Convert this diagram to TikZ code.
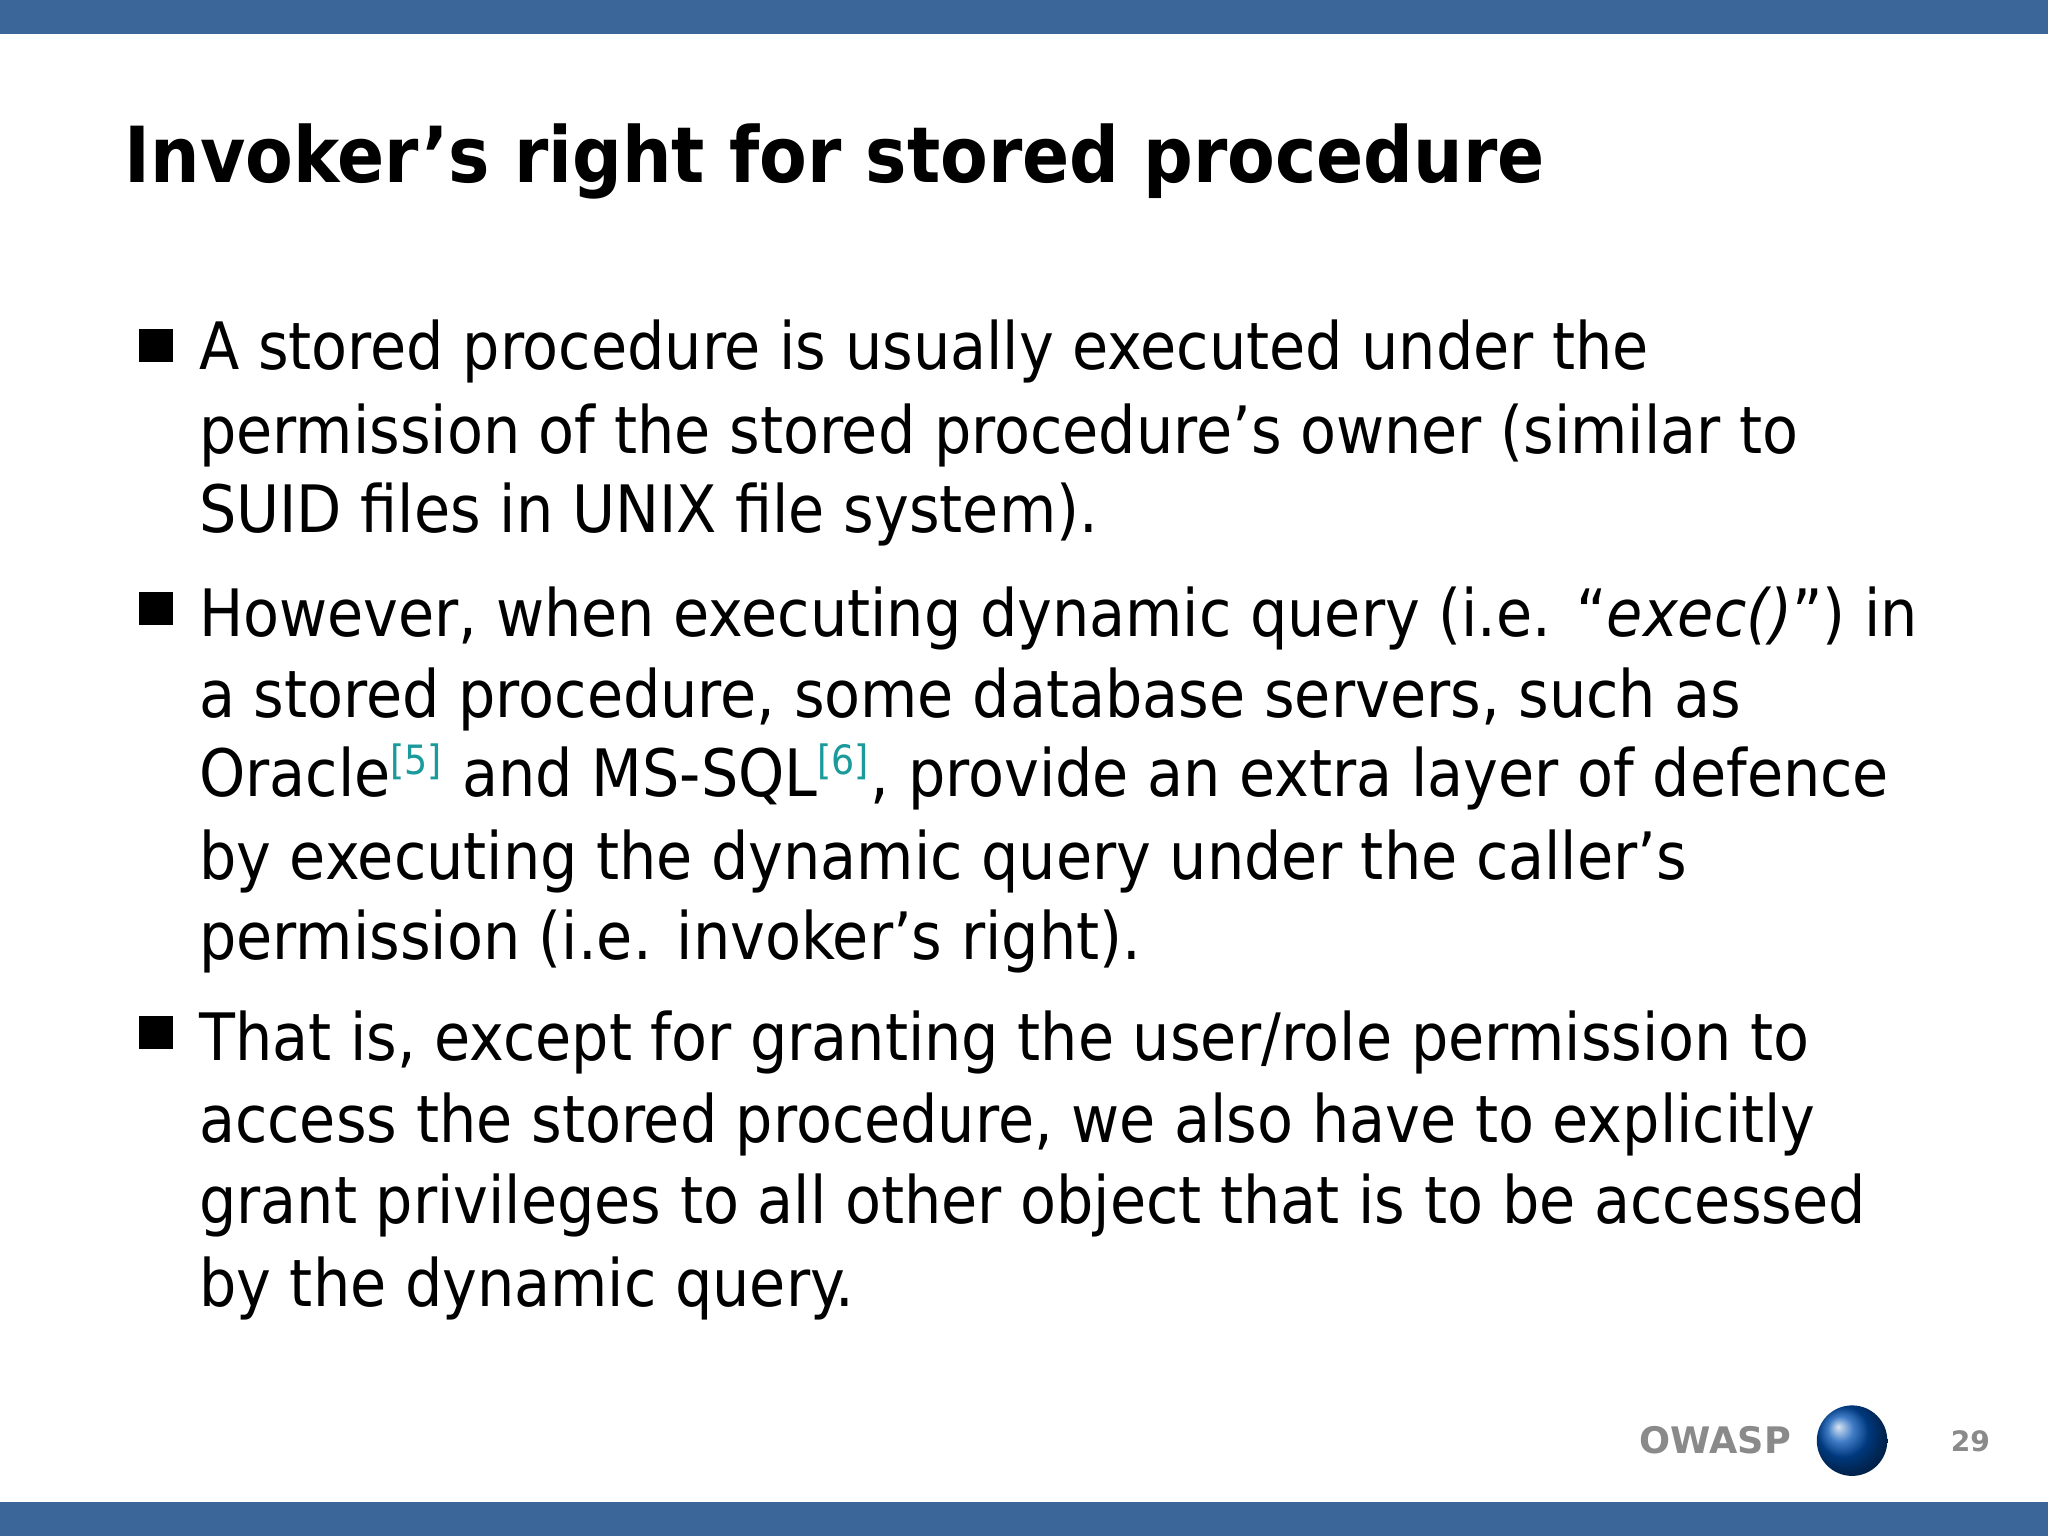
\documentclass[tikz,border=0pt]{standalone}
\usepackage{fontspec}
\setmainfont{DejaVu Sans Condensed}
\newfontfamily\titlefont{DejaVu Sans Condensed}
\newfontfamily\footfont{DejaVu Sans}
\definecolor{barblue}{HTML}{3A6699}
\definecolor{refteal}{HTML}{1A9A9A}
\definecolor{owgray}{HTML}{8A8A8A}
\tikzset{line/.style={anchor=base west,inner sep=0pt,font=\fontsize{18.6pt}{22pt}\selectfont},
 bul/.style={anchor=south west,inner sep=0pt,fill=black,minimum width=9.5pt,minimum height=9.5pt}}
\newcommand{\refm}[1]{\textsuperscript{\color{refteal}\fontsize{11.5pt}{12pt}\selectfont[#1]}}
\begin{document}
\begin{tikzpicture}[x=0.013061cm,y=-0.013061cm]
\useasboundingbox (0,0) rectangle (1568,1176);
\fill[white] (0,0) rectangle (1568,1176);
\fill[barblue] (0,0) rectangle (1568,26);
\fill[barblue] (0,1150) rectangle (1568,1176);
\node[anchor=base west,inner sep=0pt,font=\titlefont\bfseries\fontsize{22pt}{26pt}\selectfont] (title) at (95,140) {Invoker’s right for stored procedure};
\node[bul] (b1) at (106,278) {};
\node[bul] (b2) at (106,479) {};
\node[bul] (b3) at (106,804) {};
\node[line] (l1) at (152,283) {A stored procedure is usually executed under the};
\node[line] (l2) at (152,347) {permission of the stored procedure’s owner (similar to};
\node[line] (l3) at (152,408) {SUID files in UNIX file system).};
\node[line] (l4) at (152,487) {However, when executing dynamic query (i.e. “\textit{exec()}”) in};
\node[line] (l5) at (152,549) {a stored procedure, some database servers, such as};
\node[line] (l6) at (152,610) {Oracle\refm{5} and MS-SQL\refm{6}, provide an extra layer of defence};
\node[line] (l7) at (152,673) {by executing the dynamic query under the caller’s};
\node[line] (l8) at (152,735) {permission (i.e. invoker’s right).};
\node[line] (l9) at (152,812) {That is, except for granting the user/role permission to};
\node[line] (l10) at (152,875) {access the stored procedure, we also have to explicitly};
\node[line] (l11) at (152,937) {grant privileges to all other object that is to be accessed};
\node[line] (l12) at (152,1000) {by the dynamic query.};
\node[anchor=base west,inner sep=0pt,text=owgray,font=\footfont\bfseries\fontsize{10.4pt}{12pt}\selectfont] (ow) at (1255,1113) {OWASP};
\shade[ball color=blue!55!cyan!70!black] (1418,1103) circle (27);
\node[anchor=base west,inner sep=0pt,text=owgray,font=\footfont\bfseries\fontsize{8pt}{9pt}\selectfont] (pg) at (1493,1111) {29};
\end{tikzpicture}
\end{document}
